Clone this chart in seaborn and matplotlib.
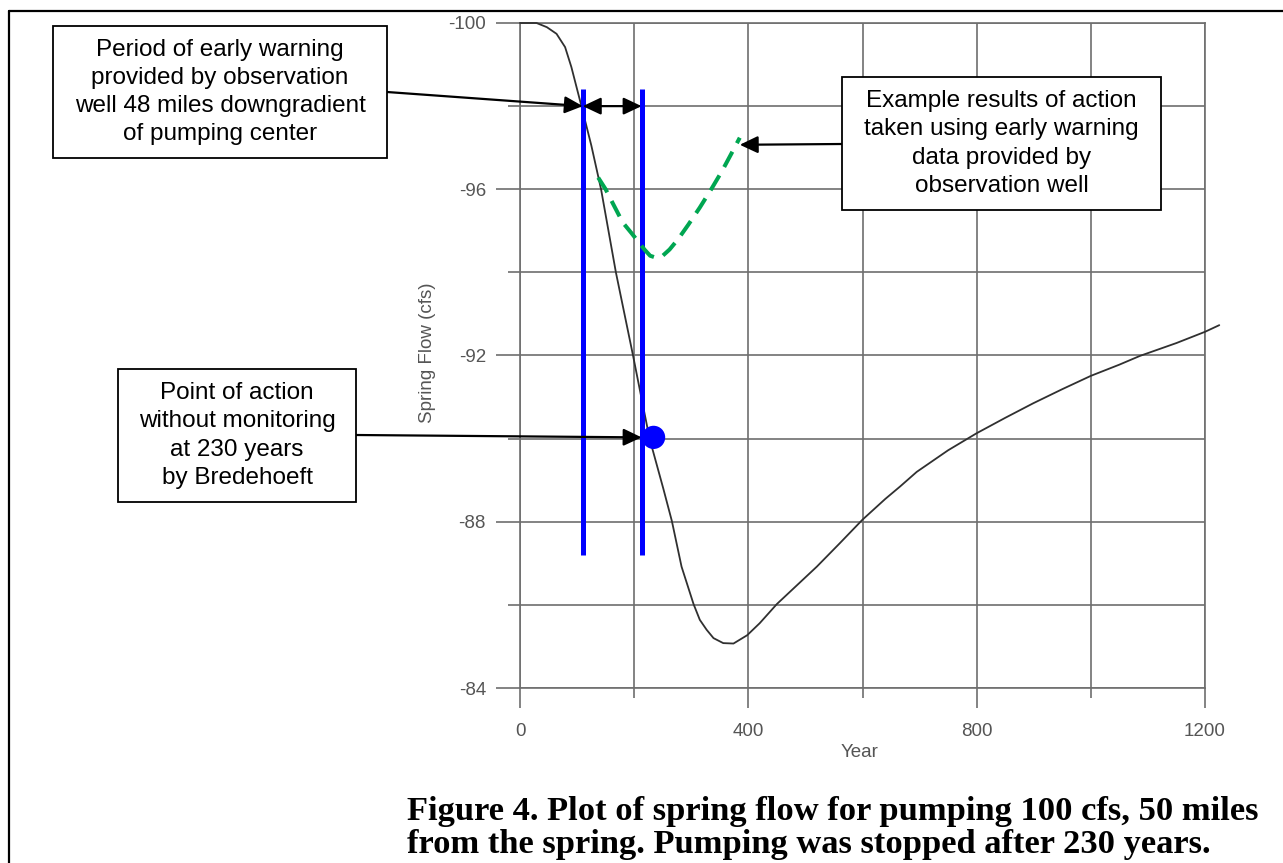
import matplotlib
matplotlib.use("Agg")
import matplotlib.pyplot as plt
import seaborn as sns
from matplotlib.patches import Rectangle
from matplotlib.lines import Line2D
from matplotlib.ticker import FixedLocator

# ---------------- data ----------------
years = [0, 29, 47, 64, 79, 90, 99, 108, 125, 142, 155, 168, 183, 198, 211, 227,
         240, 251, 266, 283, 304, 315, 327, 339, 356, 374, 398, 420, 450, 485,
         520, 560, 600, 640, 666, 695, 750, 800, 850, 899, 950, 1000, 1050, 1086,
         1150, 1200, 1225]
flow = [-100, -100, -99.9, -99.74, -99.42, -98.94, -98.46, -97.98, -97.05, -96.0,
        -95.0, -94.0, -93.0, -92.0, -91.1, -90.0, -89.35, -88.8, -88.02, -86.92,
        -86.02, -85.64, -85.4, -85.2, -85.08, -85.07, -85.27, -85.56, -86.02,
        -86.47, -86.92, -87.48, -88.05, -88.55, -88.85, -89.2, -89.72, -90.13,
        -90.5, -90.85, -91.19, -91.51, -91.78, -91.99, -92.3, -92.57, -92.73]

action_years = [137, 150, 163, 180, 195, 206, 218, 228, 239, 250, 262, 277, 295,
                315, 335, 354, 370, 385]
action_flow = [-96.28, -96.0, -95.65, -95.2, -94.95, -94.76, -94.55, -94.4, -94.35,
               -94.4, -94.55, -94.8, -95.15, -95.56, -96.0, -96.44, -96.85, -97.24]

warning_years = [110, 213]          # blue vertical markers
warning_top, warning_bottom = -98.4, -87.2
warning_level = -98.0

action_point_year = [234]
action_point_flow = [-90.03]

x_major = [0, 400, 800, 1200]
x_minor = [200, 600, 1000]
y_major = [-100, -96, -92, -88, -84]
y_minor = [-98, -94, -90, -86]

box_texts = [
    "Period of early warning\nprovided by observation\nwell 48 miles downgradient\nof pumping center",
    "Example results of action\ntaken using early warning\ndata provided by\nobservation well",
    "Point of action\nwithout monitoring\nat 230 years\nby Bredehoeft",
]
caption_lines = [
    "Figure 4. Plot of spring flow for pumping 100 cfs, 50 miles",
    "from the spring. Pumping was stopped after 230 years.",
]

# ---------------- figure ----------------
sns.set_theme(style="white")
plt.rcParams["font.family"] = ["Liberation Sans", "DejaVu Sans"]

W, H = 1283, 863
fig = plt.figure(figsize=(W / 100, H / 100), dpi=100)

def fx(x):
    return x / W

def fy(y):
    return 1 - y / H

ax = fig.add_axes([fx(520), fy(688), (1205 - 520) / W, (688 - 23) / H])
ax.set_facecolor("white")

grid_c = "#6e6e6e"
sns.lineplot(x=years, y=flow, color="#303030", lw=1.3, ax=ax, clip_on=False,
             estimator=None, sort=False, zorder=3)

ax.vlines(warning_years, warning_top, warning_bottom, color="#0000FF", lw=3.6, zorder=4)

sns.lineplot(x=action_years, y=action_flow, color="#00A651", lw=2.9, ax=ax,
             estimator=None, sort=False, linestyle=(0, (4.3, 2.4)), zorder=5)

ax.scatter(action_point_year, action_point_flow, s=280, color="#0000FF",
           edgecolor="none", zorder=6)

ax.set_xlim(0, 1200)
ax.set_ylim(-84, -100)
ax.xaxis.set_major_locator(FixedLocator(x_major))
ax.xaxis.set_minor_locator(FixedLocator(x_minor))
ax.yaxis.set_major_locator(FixedLocator(y_major))
ax.yaxis.set_minor_locator(FixedLocator(y_minor))
ax.set_xticklabels([str(v) for v in x_major])
ax.set_yticklabels([str(v) for v in y_major])
ax.grid(True, which="both", color=grid_c, lw=1.2)
ax.set_axisbelow(True)
for s in ax.spines.values():
    s.set_color(grid_c)
    s.set_linewidth(1.2)
ax.tick_params(axis="x", which="major", direction="out", length=14.4, width=1.2,
               color=grid_c, pad=11, labelsize=13.5, labelcolor="#555555")
ax.tick_params(axis="x", which="minor", direction="out", length=7.2, width=1.2,
               color=grid_c)
ax.tick_params(axis="y", which="major", direction="out", length=17.5, width=1.2,
               color=grid_c, pad=7, labelsize=13.5, labelcolor="#555555")
ax.tick_params(axis="y", which="minor", direction="out", length=9, width=1.2,
               color=grid_c)
ax.tick_params(bottom=True, left=True, which="both")

ax.set_xlabel("Year", fontsize=13.5, color="#555555")
ax.set_ylabel("Spring Flow (cfs)", fontsize=13.5, color="#555555")
ax.xaxis.set_label_coords((860 - 520) / 685, (688 - 744) / 665)
ax.yaxis.set_label_coords((436 - 520) / 685, (688 - 353) / 665)

# ---------------- annotation boxes ----------------
boxes = [(53, 26, 387, 158), (842, 77, 1161, 210), (118, 369, 356, 502)]
for (x0, y0, x1, y1), txt in zip(boxes, box_texts):
    fig.add_artist(Rectangle((fx(x0), fy(y1)), fx(x1) - fx(x0), fy(y0) - fy(y1),
                             transform=fig.transFigure, facecolor="white",
                             edgecolor="black", lw=1.3, zorder=10))
    fig.text(fx((x0 + x1) / 2), fy((y0 + y1) / 2), txt, ha="center", va="center",
             fontsize=17.5, color="black", linespacing=1.36, zorder=11)

aprops = dict(arrowstyle="-|>,head_length=0.55,head_width=0.26", color="black",
              lw=1.6, shrinkA=0, shrinkB=0, mutation_scale=20)
ax.annotate("", xy=(warning_years[0], warning_level), xycoords="data",
            xytext=(fx(387), fy(92)), textcoords="figure fraction",
            arrowprops=aprops, annotation_clip=False, zorder=12)
ax.annotate("", xy=(warning_years[1], warning_level), xycoords="data",
            xytext=(warning_years[0], warning_level), textcoords="data",
            arrowprops=dict(aprops, arrowstyle="<|-|>,head_length=0.55,head_width=0.26"),
            zorder=12)
ax.annotate("", xy=(action_years[-1], -97.07), xycoords="data",
            xytext=(fx(842), fy(144)), textcoords="figure fraction",
            arrowprops=aprops, annotation_clip=False, zorder=12)
ax.annotate("", xy=(warning_years[1], action_point_flow[0]), xycoords="data",
            xytext=(fx(356), fy(435)), textcoords="figure fraction",
            arrowprops=aprops, annotation_clip=False, zorder=12)

# ---------------- caption & frame ----------------
for i, line in enumerate(caption_lines):
    fig.text(fx(407), fy(820 + 33 * i), line, ha="left", va="baseline",
             fontsize=24.8, fontweight="bold", family=["Liberation Serif", "DejaVu Serif"],
             color="black")

fig.add_artist(Line2D([fx(9), 1], [fy(11), fy(11)], transform=fig.transFigure,
                      color="black", lw=1.6))
fig.add_artist(Line2D([fx(9), fx(9)], [fy(11), 0], transform=fig.transFigure,
                      color="black", lw=1.6))

fig.savefig("out.png", dpi=100, facecolor="white")
